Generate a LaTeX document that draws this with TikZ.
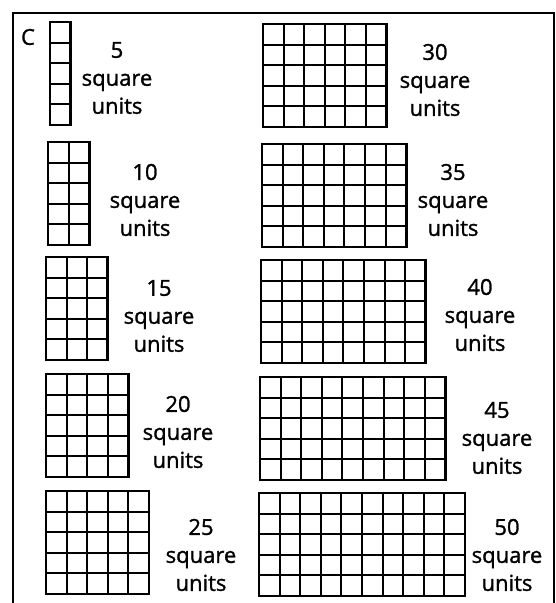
\documentclass[tikz,border=0pt]{standalone}
\usepackage{fontspec}
\setmainfont{Open Sans}[FakeBold=1.3]
\usetikzlibrary{positioning}

\begin{document}
\begin{tikzpicture}[
  x=1pt, y=-1pt,
  font=\fontsize{22}{28}\selectfont,
  cellline/.style={line width=2.1pt},
  outline/.style={line width=2.7pt},
  panel/.style={line width=2pt},
  lbl/.style={align=center, inner sep=0pt}]
\useasboundingbox (0,0) rectangle (556,603);
\def\cell{20.6}
\draw[panel] (13,603) -- (13,13) -- (554,13) -- (554,603);
\node (tag) at (28,37) {C};
% one grid of 5 rows per area, label on its right
\foreach \n/\c/\gx/\gy/\lx/\ly in {5/1/50/22/117/78, 10/2/48/142/145/200,
    15/3/46/257/159/316, 20/4/46/374/178/432, 25/5/46/491/201/555,
    30/6/263/24/435/80, 35/7/262/144/453/200, 40/8/261/260/480/315,
    45/9/260/377/497/438, 50/10/259/493/507/555}{
  \begin{scope}[shift={(\gx,\gy)}]
    \foreach \i in {0,...,\c} \draw[cellline] (\i*\cell,0) -- (\i*\cell,5*\cell);
    \foreach \j in {0,...,5} \draw[cellline] (0,\j*\cell) -- (\c*\cell,\j*\cell);
    \draw[outline] (0,0) rectangle (\c*\cell,5*\cell);
  \end{scope}
  \node[lbl] (a\n) at (\lx,\ly) {\n\\square\\units};
}
\end{tikzpicture}
\end{document}
